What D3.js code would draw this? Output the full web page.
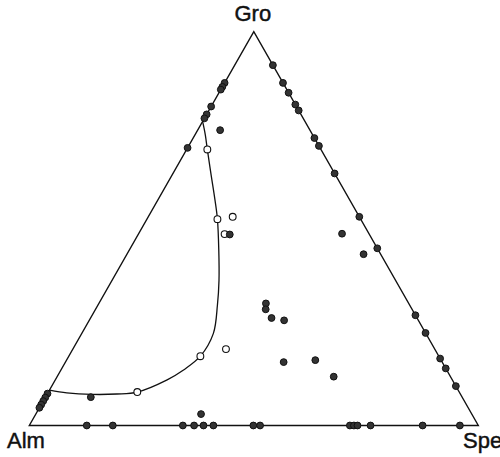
<!DOCTYPE html>
<html>
<head>
<meta charset="utf-8">
<script src="https://cdn.jsdelivr.net/npm/d3@7"></script>
<style>
  html, body { margin: 0; padding: 0; background: #fff; }
  svg { display: block; }
  text { font-family: "Liberation Sans", Arial, Helvetica, sans-serif; fill: #111; stroke: #111; stroke-width: 0.45; }
</style>
</head>
<body>
<svg id="chart" width="500" height="457"></svg>
<script>
// Garnet end-member compositions (mol %): Gro = grossular, Spe = spessartine, Alm = almandine.
const vertexLabels = ["Alm", "Spe", "Gro"];

// Analyses lying on the Gro–Spe join (Gro %, remainder Spe)
const groSpeJoin = [91.5, 87, 84.5, 81.5, 80, 73, 71, 64, 53, 45, 28, 23.5, 17, 14.5, 10];

// Analyses lying on the Alm–Gro join (Gro %, remainder Alm)
const almGroJoin = [87, 86, 85.3, 81, 79, 78, 70.5, 8.1, 7.1, 6.2, 5.3, 4.5];

// Analyses lying on the Alm–Spe join (Spe %, remainder Alm)
const almSpeJoin = [12.8, 18.6, 34.2, 36.7, 38.8, 41, 49.9, 51.4, 71.4, 72.3, 73.1, 76, 87.6, 95.9];

// Interior analyses, solid symbols: [Gro %, Spe %]
const solidInterior = [
  [75, 5], [48.5, 20.4], [48.7, 45.3], [43.5, 52.7],
  [31, 37.2], [29.5, 37.9], [27.3, 40.3], [26.7, 43.4],
  [16.1, 48.6], [16.6, 55.4], [12.4, 61.6], [2.9, 36.8], [7.2, 10.1]
];

// Open symbols: [Gro %, Spe %]
const openPoints = [
  [70.1, 4.6], [52.4, 15.7], [17.6, 29.3], [8.5, 19.8],
  [53, 18.8], [48.6, 19.2], [19.4, 34.1]
];

// Zoning trend through the open symbols: [Gro %, Spe %]
const trendPath = [
  [77.2, 0], [73.8, 2.3], [70.1, 4.6], [63.6, 8.7], [57.3, 12.7], [52.4, 15.7],
  [44.6, 19.9], [36.9, 23.8], [30.6, 26.6], [23.4, 29.3], [17.6, 29.3],
  [14.1, 27.3], [11.6, 24.9], [8.5, 19.8], [8, 15.5], [7.9, 10], [8.3, 4.2], [9, 0]
];

const svg = d3.select("#chart");

// Horizontal position follows Spe + Gro/2, vertical position follows Gro.
const xScale = d3.scaleLinear().domain([0, 100]).range([29.3, 478.3]);
const yScale = d3.scaleLinear().domain([0, 100]).range([425.5, 31.7]);
const project = (gro, spe) => [xScale(spe + gro / 2), yScale(gro)];

// Triangle outline
const corners = [project(0, 0), project(0, 100), project(100, 0)];
svg.append("path")
  .attr("d", d3.line()(corners) + "Z")
  .attr("fill", "none")
  .attr("stroke", "#111")
  .attr("stroke-width", 1.4)
  .attr("stroke-linejoin", "miter");

// Trend curve
svg.append("path")
  .attr("d", d3.line().curve(d3.curveCatmullRom.alpha(0.5))(trendPath.map(d => project(d[0], d[1]))))
  .attr("fill", "none")
  .attr("stroke", "#111")
  .attr("stroke-width", 1.3);

// Open symbols
svg.append("g").selectAll("circle")
  .data(openPoints)
  .join("circle")
  .attr("cx", d => project(d[0], d[1])[0])
  .attr("cy", d => project(d[0], d[1])[1])
  .attr("r", 3.4)
  .attr("fill", "#fff")
  .attr("stroke", "#111")
  .attr("stroke-width", 1.1);

// Solid symbols on joins and in the interior
const solids = [
  ...groSpeJoin.map(g => [g, 100 - g]),
  ...almGroJoin.map(g => [g, 0]),
  ...almSpeJoin.map(s => [0, s]),
  ...solidInterior
];
svg.append("g").selectAll("circle")
  .data(solids)
  .join("circle")
  .attr("cx", d => project(d[0], d[1])[0])
  .attr("cy", d => project(d[0], d[1])[1])
  .attr("r", 3.4)
  .attr("fill", "#333")
  .attr("stroke", "#111")
  .attr("stroke-width", 1);

// Vertex labels
const labelFont = 22;
svg.append("text").text(vertexLabels[2])
  .attr("x", xScale(50) - 1).attr("y", 21)
  .attr("text-anchor", "middle").attr("font-size", labelFont);
svg.append("text").text(vertexLabels[0])
  .attr("x", 7).attr("y", 448)
  .attr("font-size", labelFont);
svg.append("text").text(vertexLabels[1])
  .attr("x", 463).attr("y", 448)
  .attr("font-size", labelFont);
</script>
</body>
</html>
